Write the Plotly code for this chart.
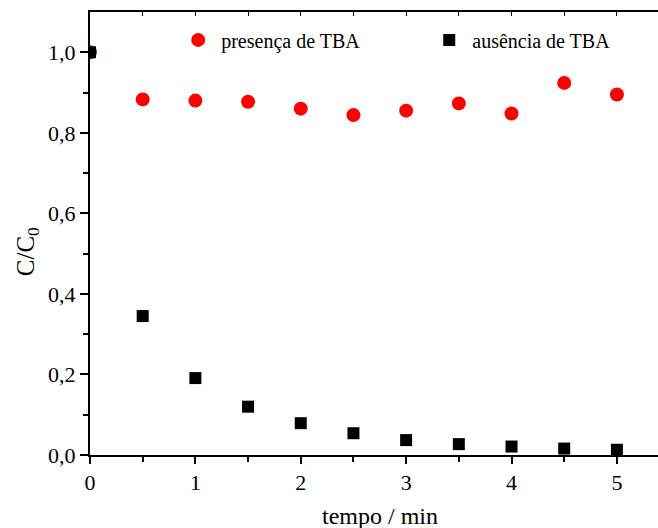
import plotly.graph_objects as go

tempo = [0, 0.5, 1, 1.5, 2, 2.5, 3, 3.5, 4, 4.5, 5]
presenca = [1.0, 0.883, 0.880, 0.877, 0.860, 0.844, 0.855, 0.873, 0.848, 0.924, 0.895]
ausencia = [1.0, 0.345, 0.191, 0.120, 0.079, 0.054, 0.037, 0.027, 0.021, 0.016, 0.013]

font = "Liberation Serif, Times New Roman, serif"

fig = go.Figure()
fig.add_trace(go.Scatter(x=tempo, y=presenca, mode="markers", name="presença de TBA",
                         legend="legend",
                         marker=dict(symbol="circle", size=14, color="#ff0000")))
fig.add_trace(go.Scatter(x=tempo, y=ausencia, mode="markers", name="ausência de TBA",
                         legend="legend2",
                         marker=dict(symbol="square", size=12, color="#000000")))
# invisible trace for top axis
fig.add_trace(go.Scatter(x=[0], y=[0], xaxis="x2", mode="markers", showlegend=False,
                         marker=dict(opacity=0), hoverinfo="skip"))

leg = dict(yanchor="middle", xanchor="left", y=0.937, bgcolor="rgba(0,0,0,0)",
           font=dict(family=font, size=20, color="black"), itemsizing="trace", itemwidth=36)

fig.update_layout(
    width=658, height=528,
    margin=dict(l=90, r=0, t=12, b=73),
    paper_bgcolor="white", plot_bgcolor="white",
    separators=", ",
    font=dict(family=font, color="black"),
    showlegend=True,
    legend=dict(x=0.150, **leg),
    legend2=dict(x=0.592, **leg),
    xaxis=dict(range=[0, 5.39], showline=True, linecolor="black", linewidth=2, automargin=False,
               ticks="outside", tickwidth=2, ticklen=7, tickcolor="black",
               tickvals=[0, 1, 2, 3, 4, 5], ticktext=["0", "1", "2", "3", "4", "5"],
               minor=dict(tickvals=[0.5, 1.5, 2.5, 3.5, 4.5], ticks="outside", ticklen=5, tickwidth=2, tickcolor="black"),
               showgrid=False, zeroline=False,
               tickfont=dict(family=font, size=22)),
    xaxis2=dict(range=[0, 5.39], overlaying="x", side="top", showline=True, linecolor="black",
                linewidth=2, ticks="inside", ticklen=4, tickwidth=1, tickcolor="black", automargin=False,
                dtick=0.5, tick0=0, showticklabels=False, showgrid=False, zeroline=False),
    yaxis=dict(range=[0, 1.1], showline=True, linecolor="black", linewidth=2, automargin=False,
               ticks="outside", tickwidth=2, ticklen=8, tickcolor="black",
               tickvals=[0, 0.2, 0.4, 0.6, 0.8, 1.0],
               ticktext=["0,0", "0,2", "0,4", "0,6", "0,8", "1,0"],
               minor=dict(tickvals=[0.1, 0.3, 0.5, 0.7, 0.9], ticks="outside", ticklen=5, tickwidth=2, tickcolor="black"),
               showgrid=False, zeroline=False,
               tickfont=dict(family=font, size=22)),
    annotations=[
        dict(text="tempo / min", xref="paper", yref="paper", x=0.5106, y=-0.1377,
             xanchor="center", yanchor="middle", showarrow=False,
             font=dict(family=font, size=24, color="black")),
        dict(text="C/C<sub>0</sub>", xref="paper", yref="paper", x=-0.111, y=0.46,
             xanchor="center", yanchor="middle", showarrow=False, textangle=-90,
             font=dict(family=font, size=25, color="black")),
    ],
)

fig.write_html("out.html")
